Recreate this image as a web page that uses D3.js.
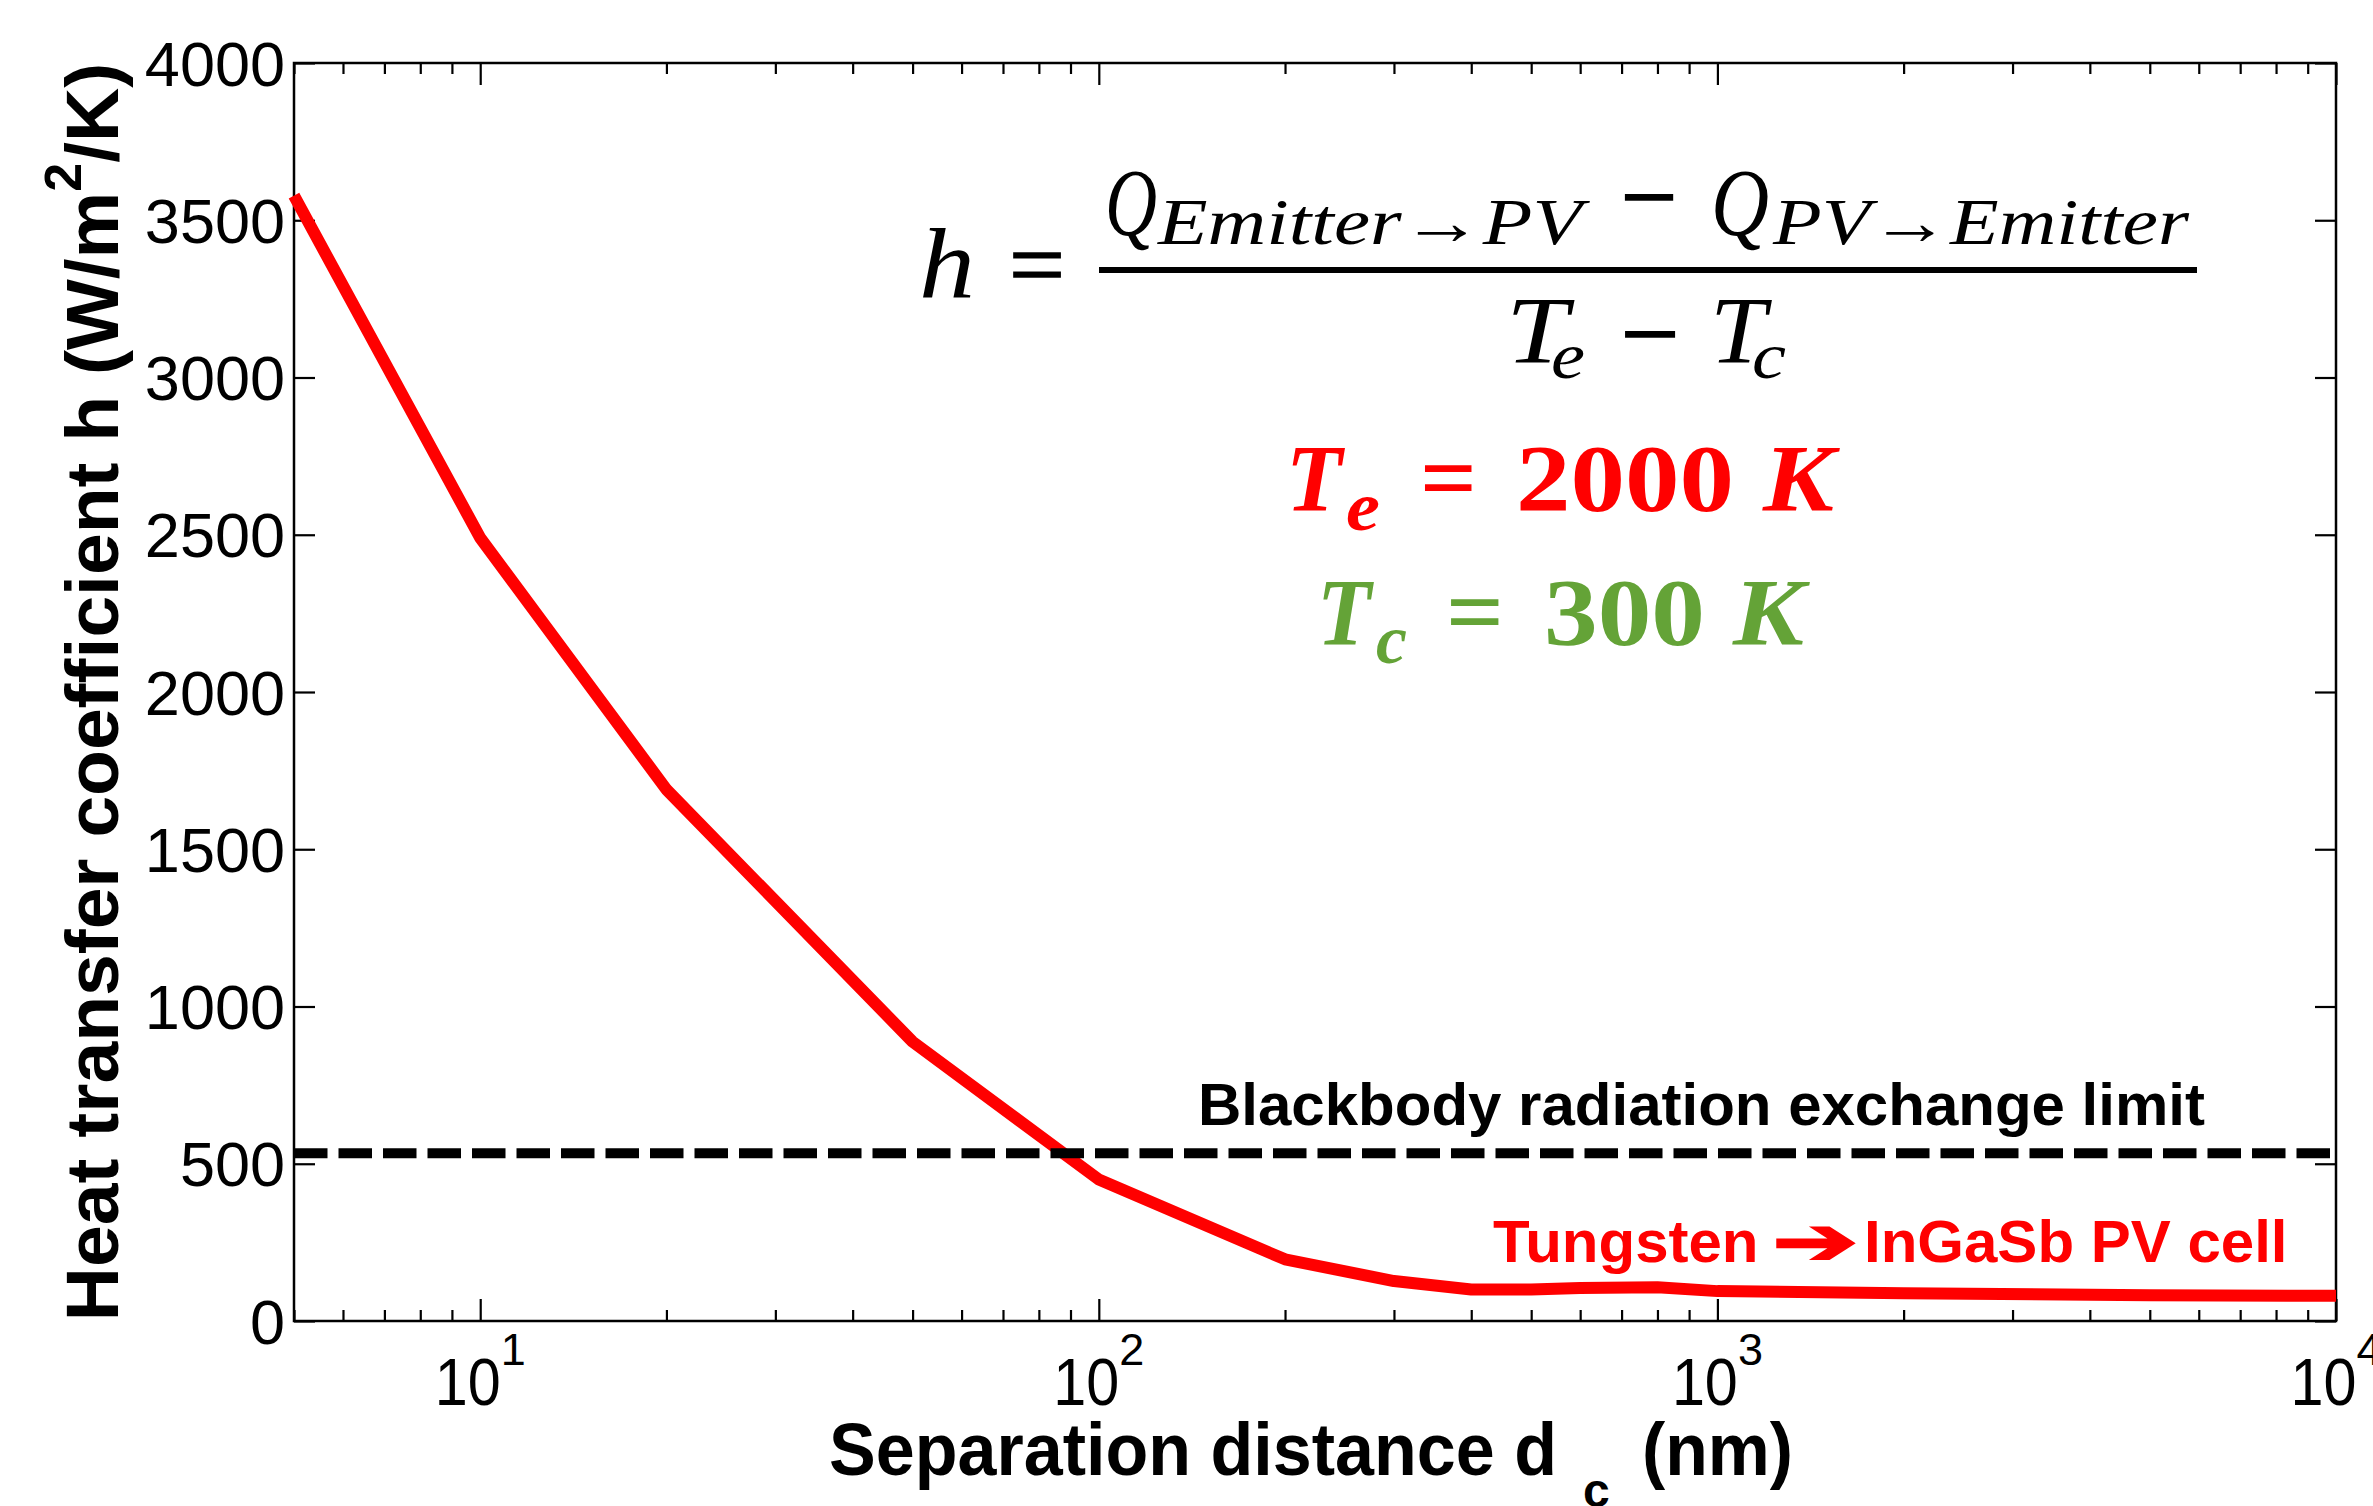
<!DOCTYPE html>
<html>
<head>
<meta charset="utf-8">
<script src="https://cdn.jsdelivr.net/npm/d3@7.9.0/dist/d3.min.js"></script>
<style>
  body { margin: 0; background: #fff; overflow: hidden; }
  svg text { font-family: "Liberation Sans", Arial, sans-serif; }
  svg text.math { font-family: "Liberation Serif", "DejaVu Serif", serif; }
</style>
</head>
<body>
<div id="chart"></div>
<script>
// separation distance (nm) and heat transfer coefficient (W/m^2/K)
const distances = [5, 10, 20, 50, 100, 200, 300, 400, 500, 600, 800, 1000, 2000, 5000, 10000];
const hValues   = [3578, 2490, 1690, 888, 450, 196, 127, 100, 100, 105, 107, 95, 88, 82, 80];
const blackbodyLimit = 533;

const yTicks = [0, 500, 1000, 1500, 2000, 2500, 3000, 3500, 4000];
const xMajorTicks = [10, 100, 1000, 10000];
const xTickExponents = ["1", "2", "3", "4"];

const W = 2373, H = 1506;
const plot = { left: 294, right: 2336, top: 63, bottom: 1321 };

const svg = d3.select("#chart").append("svg")
  .attr("width", W)
  .attr("height", H);

const x = d3.scaleLog().domain([5, 10000]).range([plot.left, plot.right]);
const y = d3.scaleLinear().domain([0, 4000]).range([plot.bottom, plot.top]);

const xMinorTicks = x.ticks().filter(t => !xMajorTicks.includes(t));

// ticks (Matlab style: inside, mirrored on all four sides)
function styleAxis(sel) {
  sel.select(".domain").remove();
  sel.selectAll(".tick line").attr("stroke", "#000").attr("stroke-width", 2.2);
}

svg.append("g")
  .attr("transform", `translate(0,${plot.bottom})`)
  .call(d3.axisBottom(x).tickValues(xMajorTicks).tickSizeInner(-22).tickSizeOuter(0).tickFormat(""))
  .call(styleAxis);
svg.append("g")
  .attr("transform", `translate(0,${plot.bottom})`)
  .call(d3.axisBottom(x).tickValues(xMinorTicks).tickSizeInner(-11).tickSizeOuter(0).tickFormat(""))
  .call(styleAxis);
svg.append("g")
  .attr("transform", `translate(0,${plot.top})`)
  .call(d3.axisTop(x).tickValues(xMajorTicks).tickSizeInner(-22).tickSizeOuter(0).tickFormat(""))
  .call(styleAxis);
svg.append("g")
  .attr("transform", `translate(0,${plot.top})`)
  .call(d3.axisTop(x).tickValues(xMinorTicks).tickSizeInner(-11).tickSizeOuter(0).tickFormat(""))
  .call(styleAxis);

const yAxis = svg.append("g")
  .attr("transform", `translate(${plot.left},0)`)
  .call(d3.axisLeft(y).tickValues(yTicks).tickSizeInner(-21).tickSizeOuter(0).tickPadding(9).tickFormat(d3.format("d")))
  .call(styleAxis);
yAxis.selectAll(".tick text")
  .attr("font-family", "Liberation Sans, Arial, sans-serif")
  .attr("font-size", 63)
  .attr("fill", "#000")
  .attr("dy", "0.35em");

svg.append("g")
  .attr("transform", `translate(${plot.right},0)`)
  .call(d3.axisRight(y).tickValues(yTicks).tickSizeInner(-21).tickSizeOuter(0).tickFormat(""))
  .call(styleAxis);

// box
svg.append("rect")
  .attr("x", plot.left)
  .attr("y", plot.top)
  .attr("width", plot.right - plot.left)
  .attr("height", plot.bottom - plot.top)
  .attr("fill", "none")
  .attr("stroke", "#000")
  .attr("stroke-width", 2.5);

// x tick labels 10^n
svg.append("g").selectAll("text")
  .data(xMajorTicks)
  .join("text")
    .attr("x", d => x(d))
    .attr("y", 1405)
    .attr("text-anchor", "middle")
    .attr("font-size", 66)
    .each(function(d, i) {
      const t = d3.select(this);
      t.append("tspan").attr("textLength", 66).attr("lengthAdjust", "spacingAndGlyphs").text("10");
      t.append("tspan").attr("dy", -40).attr("font-size", 45).text(xTickExponents[i]);
    });

// curve
const line = d3.line()
  .x((d, i) => x(distances[i]))
  .y(d => y(d));

svg.append("path")
  .datum(hValues)
  .attr("d", line)
  .attr("fill", "none")
  .attr("stroke", "#ff0000")
  .attr("stroke-width", 12)
  .attr("stroke-linejoin", "round");

// blackbody limit
svg.append("line")
  .attr("x1", plot.left)
  .attr("x2", plot.right - 4)
  .attr("y1", y(blackbodyLimit))
  .attr("y2", y(blackbodyLimit))
  .attr("stroke", "#000")
  .attr("stroke-width", 10)
  .attr("stroke-dasharray", "33.5 11");

svg.append("text")
  .attr("x", 1198)
  .attr("y", 1125)
  .attr("font-size", 60)
  .attr("font-weight", "bold")
  .attr("fill", "#000")
  .text("Blackbody radiation exchange limit");

// series annotation
svg.append("text")
  .attr("x", 1493)
  .attr("y", 1262)
  .attr("font-size", 60)
  .attr("font-weight", "bold")
  .attr("fill", "#ff0000")
  .text("Tungsten");
svg.append("text")
  .attr("x", 1772)
  .attr("y", 1264)
  .attr("font-family", "DejaVu Sans, sans-serif")
  .attr("font-size", 66)
  .attr("font-weight", "bold")
  .attr("fill", "#ff0000")
  .attr("textLength", 86)
  .attr("lengthAdjust", "spacingAndGlyphs")
  .text("\u2794");
svg.append("text")
  .attr("x", 1864)
  .attr("y", 1262)
  .attr("font-size", 60)
  .attr("font-weight", "bold")
  .attr("fill", "#ff0000")
  .text("InGaSb PV cell");

// axis labels
const yLab = svg.append("text")
  .attr("transform", `translate(118,${(plot.top + plot.bottom) / 2}) rotate(-90)`)
  .attr("text-anchor", "middle")
  .attr("font-size", 75)
  .attr("font-weight", "bold")
  .attr("fill", "#000");
yLab.append("tspan").text("Heat transfer coefficient h (W/m");
yLab.append("tspan").attr("dy", -37).attr("font-size", 52).text("2");
yLab.append("tspan").attr("dy", 37).text("/K)");

svg.append("text")
  .attr("x", 829).attr("y", 1475)
  .attr("font-size", 75).attr("font-weight", "bold")
  .attr("textLength", 728).attr("lengthAdjust", "spacingAndGlyphs")
  .text("Separation distance d");
svg.append("text")
  .attr("x", 1583).attr("y", 1507)
  .attr("font-size", 48).attr("font-weight", "bold")
  .text("c");
svg.append("text")
  .attr("x", 1642).attr("y", 1475)
  .attr("font-size", 75).attr("font-weight", "bold")
  .attr("textLength", 151).attr("lengthAdjust", "spacingAndGlyphs")
  .text("(nm)");

// equations
function mathText(str, x0, base, size, opts = {}) {
  const t = svg.append("text")
    .attr("class", "math")
    .attr("x", x0)
    .attr("y", base)
    .attr("font-size", size)
    .attr("font-style", opts.italic ? "italic" : "normal")
    .attr("font-weight", opts.bold ? "bold" : "normal")
    .attr("fill", opts.fill || "#000")
    .text(str);
  if (opts.width) t.attr("textLength", opts.width).attr("lengthAdjust", "spacingAndGlyphs");
  if (opts.heavy) t.attr("stroke", opts.fill || "#000").attr("stroke-width", opts.heavy);
  return t;
}

mathText("h", 919, 297, 100, { italic: true, width: 56 });
mathText("=", 1009, 297, 95, { width: 56, heavy: 1.5 });
svg.append("line")
  .attr("x1", 1099).attr("x2", 2197)
  .attr("y1", 270).attr("y2", 270)
  .attr("stroke", "#000").attr("stroke-width", 6);
mathText("Q", 1105, 235, 95, { italic: true, width: 52 });
mathText("Emitter\u2192PV", 1158, 244, 65, { italic: true, width: 424 });
mathText("\u2212", 1621, 229, 95, { width: 56, heavy: 2 });
mathText("Q", 1711, 235, 95, { italic: true, width: 58 });
mathText("PV\u2192Emitter", 1773, 244, 65, { italic: true, width: 416 });
mathText("T", 1506, 363, 95, { italic: true, width: 62 });
mathText("e", 1551, 378, 65, { italic: true, width: 34 });
mathText("\u2212", 1621, 366, 95, { width: 58, heavy: 2 });
mathText("T", 1710, 363, 95, { italic: true, width: 56 });
mathText("c", 1752, 378, 65, { italic: true, width: 34 });

const red = "#ff0000", green = "#64a337";
mathText("T", 1286, 511, 95, { italic: true, bold: true, fill: red, width: 56 });
mathText("e", 1346, 530, 70, { italic: true, bold: true, fill: red, width: 34 });
mathText("=", 1420, 510, 95, { bold: true, fill: red, width: 57 });
mathText("2000", 1516, 511, 96, { bold: true, fill: red, width: 218 });
mathText("K", 1763, 511, 95, { italic: true, bold: true, fill: red, width: 71 });

mathText("T", 1317, 645, 95, { italic: true, bold: true, fill: green, width: 54 });
mathText("c", 1376, 663, 70, { italic: true, bold: true, fill: green, width: 31 });
mathText("=", 1446, 644, 95, { bold: true, fill: green, width: 58 });
mathText("300", 1544, 645, 96, { bold: true, fill: green, width: 161 });
mathText("K", 1733, 645, 95, { italic: true, bold: true, fill: green, width: 71 });
</script>
</body>
</html>
